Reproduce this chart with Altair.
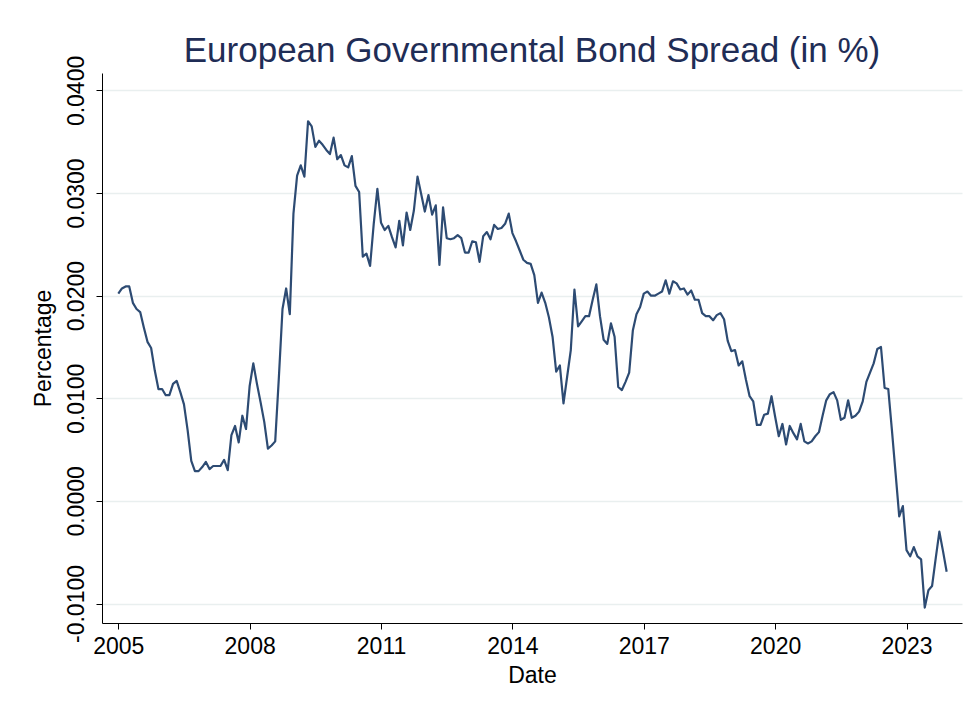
import altair as alt
import pandas as pd

spread_2005 = [0.0202, 0.0207, 0.0209, 0.0209, 0.0193, 0.0187, 0.0184, 0.0169, 0.0155, 0.0149, 0.0127, 0.0109]
spread_2006 = [0.0109, 0.0103, 0.0103, 0.0114, 0.0117, 0.0106, 0.0094, 0.0069, 0.0039, 0.0029, 0.0029, 0.0033]
spread_2007 = [0.0038, 0.0031, 0.0034, 0.0034, 0.0034, 0.0040, 0.0030, 0.0064, 0.0073, 0.0057, 0.0083, 0.0070]
spread_2008 = [0.0112, 0.0134, 0.0114, 0.0096, 0.0077, 0.0051, 0.0054, 0.0058, 0.0120, 0.0187, 0.0207, 0.0182]
spread_2009 = [0.0280, 0.0317, 0.0327, 0.0316, 0.0370, 0.0365, 0.0345, 0.0351, 0.0347, 0.0342, 0.0338, 0.0354]
spread_2010 = [0.0333, 0.0337, 0.0327, 0.0325, 0.0336, 0.0307, 0.0301, 0.0238, 0.0241, 0.0229, 0.0270, 0.0304]
spread_2011 = [0.0271, 0.0264, 0.0268, 0.0257, 0.0247, 0.0273, 0.0249, 0.0281, 0.0264, 0.0283, 0.0316, 0.0299]
spread_2012 = [0.0282, 0.0298, 0.0279, 0.0288, 0.0230, 0.0286, 0.0256, 0.0255, 0.0256, 0.0259, 0.0256, 0.0242]
spread_2013 = [0.0242, 0.0253, 0.0252, 0.0233, 0.0258, 0.0262, 0.0255, 0.0269, 0.0265, 0.0266, 0.0270, 0.0280]
spread_2014 = [0.0261, 0.0253, 0.0244, 0.0235, 0.0232, 0.0231, 0.0220, 0.0193, 0.0203, 0.0193, 0.0179, 0.0160]
spread_2015 = [0.0126, 0.0132, 0.0095, 0.0121, 0.0147, 0.0206, 0.0170, 0.0175, 0.0180, 0.0180, 0.0196, 0.0211]
spread_2016 = [0.0180, 0.0157, 0.0153, 0.0173, 0.0160, 0.0111, 0.0108, 0.0116, 0.0125, 0.0166, 0.0182, 0.0189]
spread_2017 = [0.0202, 0.0204, 0.0200, 0.0200, 0.0202, 0.0204, 0.0215, 0.0202, 0.0214, 0.0212, 0.0206, 0.0207]
spread_2018 = [0.0201, 0.0205, 0.0196, 0.0196, 0.0183, 0.0180, 0.0180, 0.0176, 0.0181, 0.0183, 0.0177, 0.0156]
spread_2019 = [0.0146, 0.0147, 0.0132, 0.0136, 0.0118, 0.0102, 0.0097, 0.0074, 0.0074, 0.0084, 0.0085, 0.0102]
spread_2020 = [0.0082, 0.0063, 0.0075, 0.0055, 0.0073, 0.0066, 0.0060, 0.0075, 0.0058, 0.0056, 0.0058, 0.0063]
spread_2021 = [0.0067, 0.0083, 0.0098, 0.0104, 0.0106, 0.0098, 0.0079, 0.0081, 0.0098, 0.0081, 0.0083, 0.0087]
spread_2022 = [0.0097, 0.0116, 0.0125, 0.0134, 0.0148, 0.0150, 0.0110, 0.0109, 0.0069, 0.0027, -0.0015, -0.0005]
spread_2023 = [-0.0048, -0.0054, -0.0045, -0.0054, -0.0057, -0.0104, -0.0087, -0.0083, -0.0056, -0.0030, -0.0049, -0.0069]

spread = (spread_2005 + spread_2006 + spread_2007 + spread_2008 + spread_2009 + spread_2010
          + spread_2011 + spread_2012 + spread_2013 + spread_2014 + spread_2015 + spread_2016
          + spread_2017 + spread_2018 + spread_2019 + spread_2020 + spread_2021 + spread_2022
          + spread_2023)

dates = pd.date_range("2005-01-01", "2023-12-01", freq="MS")

x_ticks = [2005, 2008, 2011, 2014, 2017, 2020, 2023]
y_ticks = [-0.01, 0.0, 0.01, 0.02, 0.03, 0.04]

df = pd.DataFrame({"date": dates, "spread": spread})
df["year"] = df["date"].dt.year + (df["date"].dt.month - 1) / 12.0
df = df[["year", "spread"]]

FONT = "Liberation Sans"

chart = (
    alt.Chart(df)
    .mark_line(color="#2d4b73", strokeWidth=2.2, strokeJoin="round")
    .encode(
        x=alt.X(
            "year:Q",
            title="Date",
            scale=alt.Scale(domain=[2004.628, 2024.267], nice=False, zero=False),
            axis=alt.Axis(values=x_ticks, format="d", grid=False, labelPadding=6,
                          titlePadding=6),
        ),
        y=alt.Y(
            "spread:Q",
            title="Percentage",
            scale=alt.Scale(domain=[-0.0119, 0.0417], nice=False, zero=False),
            axis=alt.Axis(
                values=y_ticks,
                labelExpr="(datum.value < 0 ? '-' : '') + format(abs(datum.value), '.4f')",
                labelAngle=-90,
                labelAlign="center",
                labelBaseline="bottom",
                labelPadding=8,
                titlePadding=10,
                grid=True,
            ),
        ),
    )
    .properties(
        width=860,
        height=550,
        autosize=alt.AutoSizeParams(type="none"),
        padding={"left": 94, "top": 65, "right": 4, "bottom": 90},
        background="white",
        title=alt.Title(
            "European Governmental Bond Spread (in %)",
            font=FONT,
            fontSize=35,
            fontWeight="normal",
            color="#1f2d56",
            anchor="middle",
            frame="group",
            offset=-14,
        ),
    )
    .configure_view(stroke="transparent")
    .configure_axis(
        labelFont=FONT,
        titleFont=FONT,
        labelFontSize=23,
        titleFontSize=23,
        labelColor="black",
        titleColor="black",
        titleFontWeight="normal",
        domainColor="black",
        domainWidth=1,
        tickColor="black",
        tickSize=6,
        tickWidth=1,
        gridColor="#e9efef",
        gridWidth=1.5,
        labelOverlap=False,
    )
)

chart.save("out.html", embed_options={"renderer": "svg", "actions": False})
